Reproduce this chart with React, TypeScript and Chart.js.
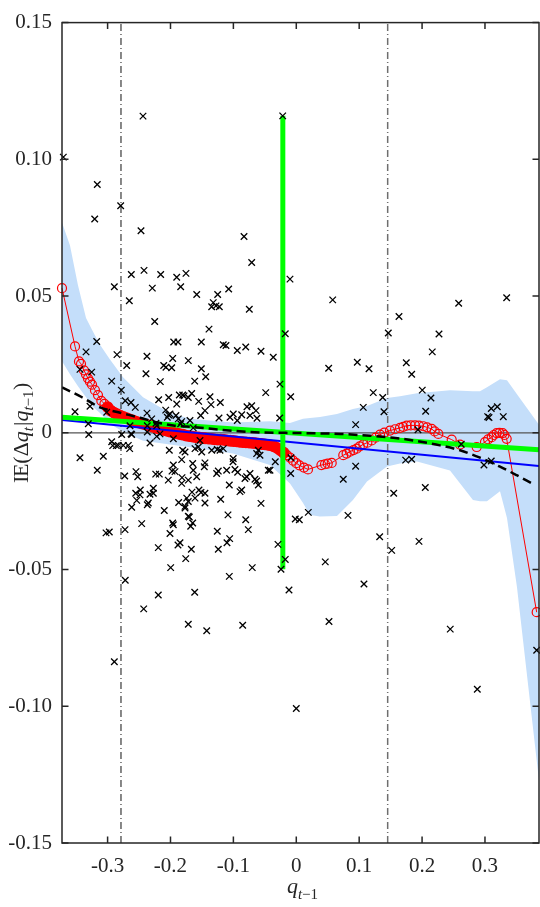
import React, { useEffect, useRef } from "react";
import { Chart, registerables } from "chart.js";

Chart.register(...registerables);

// ---------- axes ----------
const xRange = [-0.3725, 0.3859];
const yRange = [-0.15, 0.15];
const xTickValues = [-0.3, -0.2, -0.1, 0, 0.1, 0.2, 0.3];
const xTickLabels = ["-0.3", "-0.2", "-0.1", "0", "0.1", "0.2", "0.3"];
const yTickValues = [-0.15, -0.1, -0.05, 0, 0.05, 0.1, 0.15];
const yTickLabels = ["-0.15", "-0.10", "-0.05", "0", "0.05", "0.10", "0.15"];

// ---------- observations (q_{t-1}, Δq_t) ----------
const observations: [number, number][] = [
  [-0.3704, 0.1008], [-0.3164, 0.0908], [-0.3205, 0.0782], [-0.2792, 0.083], [-0.2437, 0.1158], [-0.2469, 0.0739], [-0.0831, 0.0718], [-0.0709, 0.0623], [-0.2623, 0.0579], [-0.2421, 0.0594],
  [-0.2156, 0.0579], [-0.1901, 0.0569], [-0.1754, 0.0583], [-0.2893, 0.0534], [-0.2289, 0.0529], [-0.1838, 0.0534], [-0.1583, 0.0506], [-0.125, 0.0506], [-0.1075, 0.0526], [-0.2655, 0.0483],
  [-0.132, 0.0476], [-0.0216, 0.1159], [-0.01, 0.0562], [0.0579, 0.0486], [0.3345, 0.0494], [0.2582, 0.0474], [-0.1277, 0.0464], [-0.1345, 0.0461], [-0.1224, 0.0461], [-0.0747, 0.0452],
  [-0.2251, 0.0407], [-0.1388, 0.0379], [-0.3173, 0.0334], [-0.1949, 0.0332], [-0.1881, 0.0332], [-0.151, 0.0332], [-0.1161, 0.0322], [-0.1118, 0.0319], [-0.0938, 0.0301], [-0.0804, 0.0314],
  [-0.0561, 0.0298], [-0.3343, 0.0296], [-0.2851, 0.0286], [-0.2374, 0.028], [-0.1965, 0.0272], [-0.1717, 0.0264], [-0.2696, 0.0246], [-0.2108, 0.0246], [-0.2072, 0.024], [-0.151, 0.0234],
  [-0.3439, 0.0232], [-0.239, 0.0216], [-0.144, 0.0205], [-0.2162, 0.0187], [-0.1615, 0.0189], [-0.2935, 0.0189], [-0.2782, 0.0156], [-0.186, 0.0138], [-0.1806, 0.0138], [-0.2029, 0.0129],
  [-0.1663, 0.0144], [-0.2719, 0.0117], [-0.2628, 0.0111], [-0.2188, 0.0121], [-0.1552, 0.0115], [-0.1372, 0.0132], [-0.1901, 0.0105], [-0.1356, 0.0103], [-0.1208, 0.0111], [-0.328, 0.0097],
  [-0.256, 0.0093], [-0.2076, 0.0083], [-0.2029, 0.0065], [-0.2374, 0.0072], [-0.3518, 0.0077], [-0.3014, 0.0075], [-0.1229, 0.0054], [-0.0784, 0.0095], [-0.0641, 0.0081], [-0.0625, 0.0053],
  [-0.0486, 0.0147], [-0.1822, 0.0041], [-0.169, 0.0045], [-0.2219, 0.0026], [-0.1638, 0.0018], [-0.3307, 0.0033], [-0.33, -0.0006], [-0.2776, -0.0006], [-0.2935, -0.0033], [-0.2862, -0.0047],
  [-0.2919, -0.0047], [-0.2649, -0.0058], [-0.3439, -0.0091], [-0.3068, -0.0086], [-0.3164, -0.0137], [-0.1955, -0.0022], [-0.1806, -0.0064], [-0.1531, -0.0028], [-0.1256, -0.0061], [-0.063, -0.0076],
  [-0.2728, -0.0158], [-0.2549, -0.0142], [-0.2521, -0.0161], [-0.2235, -0.0151], [-0.1976, -0.014], [-0.1817, -0.0164], [-0.1647, -0.0112], [-0.1463, -0.0124], [-0.1266, -0.0149], [-0.1006, -0.0106],
  [-0.0932, -0.0144], [-0.0789, -0.0161], [-0.063, -0.0176], [-0.2553, -0.0221], [-0.248, -0.0209], [-0.2353, -0.0257], [-0.2273, -0.0221], [-0.2617, -0.0272], [-0.2099, -0.0284], [-0.187, -0.0255],
  [-0.1658, -0.0217], [-0.1742, -0.0239], [-0.1547, -0.0209], [-0.1515, -0.0218], [-0.1202, -0.0243], [-0.1086, -0.03], [-0.0804, -0.0318], [-0.0561, -0.0258], [-0.2458, -0.0332], [-0.1965, -0.033],
  [-0.1679, -0.0342], [-0.1647, -0.033], [-0.2723, -0.0354], [-0.3025, -0.0366], [-0.2973, -0.0363], [-0.1256, -0.036], [-0.2008, -0.0368], [-0.1059, -0.0387], [-0.1102, -0.0402], [-0.0763, -0.0354],
  [-0.2194, -0.042], [-0.1881, -0.041], [-0.1669, -0.0426], [-0.124, -0.0426], [-0.1758, -0.046], [-0.1997, -0.0493], [-0.07, -0.0493], [-0.1065, -0.0525], [-0.2719, -0.0539], [-0.2194, -0.0593],
  [-0.1615, -0.0583], [-0.2426, -0.0644], [-0.1717, -0.07], [-0.1424, -0.0724], [-0.0852, -0.0704], [-0.2893, -0.0837], [-0.0116, -0.0575], [0.1076, -0.0553], [0.052, -0.069], [0, -0.1008],
  [0.2448, -0.0718], [0.2878, -0.0938], [0.3822, -0.0795], [0.1633, 0.0425], [-0.0175, 0.0362], [0.1463, 0.0365], [0.2269, 0.0361], [-0.0366, 0.0276], [0.0515, 0.0236], [0.097, 0.0258],
  [0.1156, 0.0234], [0.2162, 0.0296], [0.1749, 0.0256], [0.1835, 0.0214], [-0.0259, 0.0178], [-0.0089, 0.0132], [0.1224, 0.0147], [0.1374, 0.0129], [0.2003, 0.0156], [0.2141, 0.0127],
  [0.1065, 0.0093], [0.1394, 0.0077], [0.2057, 0.0079], [-0.0264, 0.0054], [0.0944, 0.003], [0.31, 0.0089], [0.3196, 0.0095], [0.3043, 0.0059], [0.3064, 0.0056], [0.3291, 0.0059],
  [0.1935, 0.0011], [0.2623, -0.0042], [-0.0334, -0.0106], [-0.0084, -0.0091], [-0.0418, -0.0137], [-0.0089, -0.0149], [0.0944, -0.0122], [0.1739, -0.01], [0.1835, -0.0097], [0.2984, -0.0118],
  [0.31, -0.0103], [0.0747, -0.017], [0.1549, -0.0221], [0.2051, -0.02], [0.0191, -0.0291], [-0.0016, -0.0315], [0.0048, -0.0318], [0.0822, -0.0302], [-0.0291, -0.0408], [-0.0175, -0.0463],
  [-0.0243, -0.0499], [0.1326, -0.038], [0.1517, -0.043], [0.1951, -0.0397], [0.0461, -0.0472],
  [-0.0709, 0.0099], [-0.0736, 0.0063], [-0.1452, 0.0081], [-0.152, 0.0063], [-0.1002, 0.0069], [-0.1054, 0.0057], [-0.0868, 0.0066], [-0.0938, 0.0045], [-0.1838, 0.0033], [-0.1769, -0.007],
  [-0.1822, -0.0098], [-0.161, -0.0058], [-0.1558, -0.0052], [-0.1504, -0.007], [-0.1345, -0.0064], [-0.1213, -0.0064], [-0.1161, -0.0058], [-0.1002, -0.0094], [-0.0604, -0.0064], [-0.0577, -0.0082],
  [-0.1452, -0.011], [-0.1638, -0.0137], [-0.1583, -0.0161], [-0.1822, -0.0185], [-0.1717, -0.0173], [-0.124, -0.014], [-0.1107, -0.0137], [-0.0975, -0.0134], [-0.0736, -0.0149], [-0.0816, -0.0167],
  [-0.0657, -0.017], [-0.0604, -0.0191], [-0.0445, -0.0137], [-0.1065, -0.0191], [-0.0868, -0.0209], [-0.0895, -0.0215], [-0.1452, -0.0221], [-0.161, -0.0239], [-0.1452, -0.0257], [-0.1717, -0.0251],
  [-0.1769, -0.0269], [-0.1701, -0.0308], [-0.1849, -0.0402], [-0.2628, -0.0004], [-0.2369, 0.0003], [-0.2219, -0.0013], [-0.2167, -0.0004], [-0.283, -0.0046], [-0.275, -0.0046], [-0.2671, -0.0046],
  [-0.2326, -0.0037], [-0.2178, -0.0151], [-0.2019, -0.0064], [-0.1955, -0.0118], [-0.1928, -0.0142], [-0.2035, -0.0173], [-0.2273, -0.0203], [-0.2326, -0.0225], [-0.2485, -0.0227], [-0.2537, -0.0247],
  [-0.2369, -0.0263], [-0.1769, -0.0275], [-0.1717, -0.0305], [-0.1955, -0.0336], [-0.1981, 0.0238], [-0.3253, 0.0222], [-0.2008, 0.0069], [-0.2051, 0.0057], [-0.1913, 0.0063], [-0.1876, 0.0051],
  [-0.2299, 0.0051], [-0.2231, 0.0035], [-0.2369, 0.0026], [-0.2644, 0.0026], [-0.2617, -0.0006], [-0.1785, 0.0135], [-0.1717, 0.0129],
];

// ---------- nonparametric estimate (red circles) ----------
const kernelX = [
  -0.3725, -0.3518, -0.3455, -0.3423, -0.3375, -0.3344, -0.3312, -0.328, -0.3248, -0.3201, -0.3153,
  -0.310, -0.305, -0.300, -0.295, -0.290, -0.285, -0.280, -0.275, -0.270, -0.265,
  -0.260, -0.255, -0.250, -0.245, -0.240, -0.235, -0.230, -0.225, -0.220, -0.215,
  -0.210, -0.205, -0.200, -0.195, -0.190, -0.185, -0.180, -0.175, -0.170, -0.165,
  -0.160, -0.155, -0.150, -0.145, -0.140, -0.135, -0.130, -0.125, -0.120, -0.115,
  -0.110, -0.105, -0.100, -0.095, -0.090, -0.085, -0.080, -0.075, -0.070, -0.065,
  -0.060, -0.055, -0.050, -0.045, -0.040, -0.035, -0.030, -0.025, -0.020, -0.015,
  -0.010, -0.005, 0.000, 0.005,
  0.0122, 0.0186, 0.040, 0.0456, 0.050, 0.0563,
  0.0747, 0.080, 0.0854, 0.091, 0.096, 0.101, 0.1065, 0.113, 0.1199, 0.126, 0.1331,
  0.140, 0.149, 0.157, 0.1649, 0.170, 0.1755, 0.182, 0.1887, 0.195, 0.2019, 0.208, 0.2153, 0.220, 0.2258,
  0.2471, 0.2603, 0.2868,
  0.300, 0.305, 0.3107, 0.314, 0.3186, 0.323, 0.3281, 0.331, 0.3345,
  0.3822,
];
const kernelY = [
  0.0529, 0.0316, 0.0261, 0.0252, 0.0228, 0.0214, 0.0199, 0.0187, 0.0176, 0.0156, 0.0138,
  0.0117, 0.0106, 0.0094, 0.0081, 0.0074, 0.0068, 0.0063, 0.0058, 0.0054, 0.0049,
  0.0045, 0.0041, 0.0037, 0.0034, 0.0031, 0.0027, 0.0024, 0.0020, 0.0016, 0.0013,
  0.0010, 0.0007, 0.0004, 0.0001, -0.0002, -0.0005, -0.0007, -0.0010, -0.0012, -0.0014,
  -0.0016, -0.0017, -0.0019, -0.0020, -0.0021, -0.0022, -0.0024, -0.0025, -0.0025, -0.0026,
  -0.0028, -0.0029, -0.0030, -0.0031, -0.0033, -0.0034, -0.0035, -0.0036, -0.0037, -0.0038,
  -0.0040, -0.0041, -0.0042, -0.0044, -0.0046, -0.0050, -0.0056, -0.0064, -0.0073, -0.0082,
  -0.0091, -0.0102, -0.0111, -0.0119,
  -0.0127, -0.0134, -0.0118, -0.0115, -0.0113, -0.0110,
  -0.0082, -0.0076, -0.0069, -0.0063, -0.0058, -0.0050, -0.0042, -0.0036, -0.0028, -0.0018, -0.0007,
  0.0001, 0.0008, 0.0013, 0.0018, 0.0022, 0.0026, 0.0027, 0.0027, 0.0026, 0.0024, 0.0020, 0.0014, 0.0005, -0.0004,
  -0.0025, -0.0043, -0.0052,
  -0.0034, -0.0024, -0.0016, -0.0008, -0.0001, 0.0000, -0.0001, -0.0008, -0.0022,
  -0.0656,
];
// range of q_{t-1} where the estimate's circles overlap into a solid band
const denseRange = [-0.302, -0.017];

// ---------- confidence band ----------
const bandX = [-0.3725, -0.3598, -0.3471, -0.3343, -0.3248, -0.3121, -0.2962, -0.2755, -0.2437, -0.2008, -0.169, -0.1006, -0.0418, -0.01, 0.0107, 0.0218, 0.0377, 0.0647, 0.0901, 0.1124, 0.1442, 0.1649, 0.1919, 0.2444, 0.2809, 0.2921, 0.3032, 0.3239, 0.335, 0.3509, 0.3859];
const bandUpper = [0.0769, 0.0685, 0.054, 0.042, 0.0377, 0.0322, 0.0268, 0.0203, 0.013, 0.0072, 0.0051, 0.0038, 0.0042, 0.0036, 0.0051, 0.0054, 0.0058, 0.0069, 0.0087, 0.0098, 0.0127, 0.0134, 0.0145, 0.0156, 0.0152, 0.0152, 0.0167, 0.0196, 0.0192, 0.0141, 0.0029];
const bandLower = [0.0262, 0.0214, 0.017, 0.013, 0.0098, 0.0072, 0.0033, 0.0004, -0.0029, -0.0043, -0.0053, -0.0076, -0.0118, -0.0185, -0.0257, -0.0301, -0.0306, -0.0304, -0.0246, -0.0178, -0.0123, -0.0112, -0.0105, -0.0138, -0.0246, -0.025, -0.025, -0.0214, -0.0312, -0.0565, -0.1272];

// ---------- cubic fit (black dashed) ----------
const cubicX = [-0.3725, -0.3407, -0.3121, -0.283, -0.2485, -0.2215, -0.1955, -0.1742, -0.0736, 0.0059, 0.0695, 0.1119, 0.1542, 0.186, 0.2285, 0.2603, 0.2921, 0.3239, 0.3504, 0.3747];
const cubicY = [0.0166, 0.013, 0.0093, 0.0075, 0.0055, 0.0038, 0.0027, 0.0023, 0.0003, -0.0001, -0.0004, -0.001, -0.0018, -0.0028, -0.0046, -0.0064, -0.0091, -0.0124, -0.0155, -0.0185];

// ---------- linear fits ----------
const olsX = [-0.3725, 0.3859];
const olsY = [0.0047, -0.0121];
const robustX = [-0.3725, 0.3859];
const robustY = [0.0057, -0.0062];
const breakX = -0.0214;
const breakY = [0.1159, -0.0499];
const quantileX = [-0.2787, 0.1453];

const FONT = "'Liberation Serif', 'Times New Roman', serif";
const AXIS = "#262626";

type Seg = { t: string; it?: boolean; sub?: boolean; dx?: number };

function drawRich(ctx: CanvasRenderingContext2D, segs: Seg[], cx: number, baseline: number, size: number, subSize: number, subDrop: number) {
  const fontFor = (s: Seg) => `${s.it ? "italic " : ""}${s.sub ? subSize : size}px ${FONT}`;
  let w = 0;
  segs.forEach((s) => {
    ctx.font = fontFor(s);
    w += ctx.measureText(s.t).width + (s.dx || 0);
  });
  let x = cx - w / 2;
  ctx.textAlign = "left";
  ctx.textBaseline = "alphabetic";
  segs.forEach((s) => {
    ctx.font = fontFor(s);
    ctx.fillText(s.t, x, baseline + (s.sub ? subDrop : 0));
    x += ctx.measureText(s.t).width + (s.dx || 0);
  });
}

const framePlugin = {
  id: "frame",
  afterDatasetsDraw(chart: any) {
    const { ctx, chartArea: a, scales } = chart;
    const xs = scales.x;
    const ys = scales.y;
    ctx.save();
    ctx.strokeStyle = AXIS;
    ctx.lineWidth = 1.5;
    ctx.strokeRect(a.left, a.top, a.right - a.left, a.bottom - a.top);
    const L = 6.5;
    ctx.beginPath();
    xTickValues.forEach((v) => {
      const p = xs.getPixelForValue(v);
      ctx.moveTo(p, a.bottom);
      ctx.lineTo(p, a.bottom - L);
      ctx.moveTo(p, a.top);
      ctx.lineTo(p, a.top + L);
    });
    yTickValues.forEach((v) => {
      const p = ys.getPixelForValue(v);
      ctx.moveTo(a.left, p);
      ctx.lineTo(a.left + L, p);
      ctx.moveTo(a.right, p);
      ctx.lineTo(a.right - L, p);
    });
    ctx.stroke();

    ctx.fillStyle = AXIS;
    // x title
    drawRich(ctx, [{ t: "q", it: true }, { t: "t", it: true, sub: true }, { t: "\u22121", sub: true }], (a.left + a.right) / 2 + 2, a.bottom + 50, 22, 15, 6);
    // y title (rotated)
    ctx.save();
    ctx.translate(28, (a.top + a.bottom) / 2);
    ctx.rotate(-Math.PI / 2);
    drawRich(
      ctx,
      [
        { t: "I", dx: -1.5 },
        { t: "E" },
        { t: "(\u0394" },
        { t: "q", it: true },
        { t: "t", it: true, sub: true, dx: 1 },
        { t: "|" },
        { t: "q", it: true },
        { t: "t", it: true, sub: true },
        { t: "\u22121", sub: true, dx: 0.5 },
        { t: ")" },
      ],
      0,
      0,
      22,
      15,
      5
    );
    ctx.restore();
    ctx.restore();
  },
};

const pts = (xs: number[], ys: number[]) => xs.map((x, i) => ({ x, y: ys[i] }));
const inDense = (c: any) => {
  const v = c.raw && c.raw.x;
  return v !== undefined && v >= denseRange[0] && v <= denseRange[1];
};

export default function App() {
  const ref = useRef<HTMLCanvasElement>(null);
  useEffect(() => {
    document.body.style.margin = "0";
    document.body.style.overflow = "hidden";
    const chart = new Chart(ref.current as HTMLCanvasElement, {
      type: "line",
      data: {
        datasets: [
          {
            label: "observations",
            data: observations.map(([x, y]) => ({ x, y })),
            showLine: false,
            pointStyle: "crossRot",
            pointRadius: 4.6,
            pointBorderWidth: 1.3,
            pointBorderColor: "#000",
            pointBackgroundColor: "#000",
            borderColor: "#000",
            order: 0,
            clip: false,
          } as any,
          {
            label: "cubic",
            data: pts(cubicX, cubicY),
            borderColor: "#000",
            borderWidth: 2.5,
            borderDash: [9, 5],
            pointRadius: 0,
            cubicInterpolationMode: "monotone",
            order: 1,
            fill: false,
          },
          {
            label: "robust",
            data: pts(robustX, robustY),
            borderColor: "#00ff00",
            borderWidth: 5,
            pointRadius: 0,
            order: 2,
            fill: false,
          },
          {
            label: "break",
            data: [
              { x: breakX, y: breakY[0] },
              { x: breakX, y: breakY[1] },
            ],
            borderColor: "#00ff00",
            borderWidth: 5,
            pointRadius: 0,
            order: 2,
            fill: false,
          },
          {
            label: "ols",
            data: pts(olsX, olsY),
            borderColor: "#0000ff",
            borderWidth: 2,
            pointRadius: 0,
            order: 3,
            fill: false,
          },
          {
            label: "kernel",
            data: pts(kernelX, kernelY),
            borderColor: "#ff0000",
            borderWidth: 1,
            pointRadius: (c: any) => (inDense(c) ? 5.3 : 4.5),
            pointBorderWidth: 1.2,
            pointBorderColor: "#ff0000",
            pointBackgroundColor: (c: any) => (inDense(c) ? "#ff0000" : "rgba(0,0,0,0)"),
            tension: 0,
            order: 4,
            clip: false,
            fill: false,
          } as any,
          {
            label: "q1",
            data: [
              { x: quantileX[0], y: yRange[0] },
              { x: quantileX[0], y: yRange[1] },
            ],
            borderColor: "#111",
            borderWidth: 1,
            borderDash: [7, 3, 1, 3],
            pointRadius: 0,
            order: 5,
            fill: false,
          },
          {
            label: "q2",
            data: [
              { x: quantileX[1], y: yRange[0] },
              { x: quantileX[1], y: yRange[1] },
            ],
            borderColor: "#6e6e6e",
            borderWidth: 1.5,
            borderDash: [7, 3, 1, 3],
            pointRadius: 0,
            order: 5,
            fill: false,
          },
          {
            label: "zero",
            data: [
              { x: xRange[0], y: 0 },
              { x: xRange[1], y: 0 },
            ],
            borderColor: "#555",
            borderWidth: 1.3,
            pointRadius: 0,
            order: 6,
            fill: false,
          },
          {
            label: "bandLower",
            data: pts(bandX, bandLower),
            borderColor: "rgba(0,0,0,0)",
            borderWidth: 0,
            pointRadius: 0,
            order: 8,
            fill: false,
          },
          {
            label: "bandUpper",
            data: pts(bandX, bandUpper),
            borderColor: "rgba(0,0,0,0)",
            borderWidth: 0,
            pointRadius: 0,
            backgroundColor: "rgb(196,222,250)",
            fill: "-1",
            order: 7,
          },
        ],
      },
      options: {
        animation: false,
        responsive: false,
        maintainAspectRatio: false,
        devicePixelRatio: 1,
        events: [],
        layout: { autoPadding: false, padding: { top: 15, right: 1, left: 0, bottom: 0 } },
        plugins: { legend: { display: false }, tooltip: { enabled: false } },
        scales: {
          x: {
            type: "linear",
            min: xRange[0],
            max: xRange[1],
            afterBuildTicks: (s: any) => {
              s.ticks = xTickValues.map((v) => ({ value: v }));
            },
            afterFit: (s: any) => {
              s.height = 64;
            },
            grid: { display: false, drawTicks: false },
            border: { display: false },
            ticks: {
              autoSkip: false,
              maxRotation: 0,
              padding: 11,
              color: AXIS,
              font: { family: FONT, size: 21 },
              callback: (_v: any, i: number) => xTickLabels[i],
            },
          },
          y: {
            type: "linear",
            min: yRange[0],
            max: yRange[1],
            afterBuildTicks: (s: any) => {
              s.ticks = yTickValues.map((v) => ({ value: v }));
            },
            afterFit: (s: any) => {
              s.width = 62;
            },
            grid: { display: false, drawTicks: false },
            border: { display: false },
            ticks: {
              autoSkip: false,
              padding: 10,
              color: AXIS,
              font: { family: FONT, size: 21 },
              callback: (_v: any, i: number) => yTickLabels[i],
            },
          },
        },
      } as any,
      plugins: [framePlugin],
    });
    return () => chart.destroy();
  }, []);
  return (
    <div style={{ width: 540, height: 907 }}>
      <canvas ref={ref} width={540} height={907} style={{ display: "block" }} />
    </div>
  );
}
